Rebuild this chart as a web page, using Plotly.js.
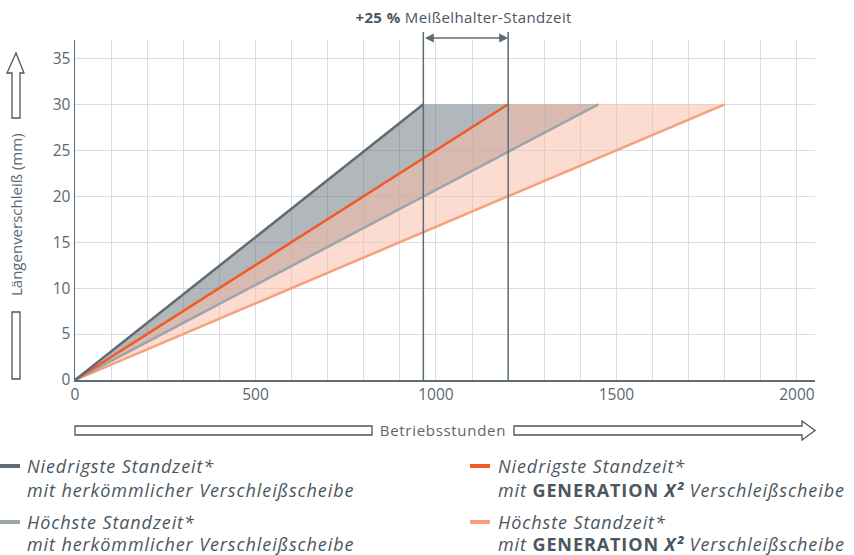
<!DOCTYPE html>
<html>
<head>
<meta charset="utf-8">
<script src="https://cdn.plot.ly/plotly-3.0.1.min.js"></script>
<style>
html,body{margin:0;padding:0;background:#fff;}#chart{width:854px;height:555px;}
g.annotation[data-index="0"] text, g.annotation[data-index="1"] text,
g.annotation[data-index="2"] text, g.annotation[data-index="3"] text,
g.annotation[data-index="4"] text, g.annotation[data-index="5"] text,
g.annotation[data-index="6"] text, g.annotation[data-index="7"] text {letter-spacing:0.9px;}
g.annotation[data-index="9"] text {letter-spacing:0.4px;}
g.annotation[data-index="11"] text {letter-spacing:0.7px;}
</style>
</head>
<body>
<div id="chart"></div>
<script>
// ---- data ----
const wear = [0, 30];                 // Längenverschleiß (mm)
const hoursLowConv = [0, 965];        // Niedrigste Standzeit, herkömmlich
const hoursHighConv = [0, 1450];      // Höchste Standzeit, herkömmlich
const hoursLowGen = [0, 1200];        // Niedrigste Standzeit, GENERATION X²
const hoursHighGen = [0, 1800];       // Höchste Standzeit, GENERATION X²
const xTicks = [0, 500, 1000, 1500, 2000];
const yTicks = [0, 5, 10, 15, 20, 25, 30, 35];
const markerHours = [965, 1200];      // +25 % markers

// ---- styling ----
const C = {
  lowConv: '#5f6b73', highConv: '#9aa4ab', lowGen: '#f05a24', highGen: '#f7a07c',
  text: '#4a5660', tick: '#5a6670', grid: '#d7dde1'
};
const FONT = '"Open Sans", Lato, sans-serif';
const L = 75, R = 815, T = 40, B = 380;
const px = p => (p - L) / (R - L);
const py = p => (B - p) / (B - T);

const rev = a => a.slice().reverse();
const traces = [
  {x: hoursLowConv.concat(rev(hoursHighConv)), y: wear.concat(rev(wear)), fill: 'toself',
   fillcolor: 'rgba(100,112,120,0.5)', line: {width: 0}, mode: 'lines', hoverinfo: 'skip'},
  {x: hoursLowGen.concat(rev(hoursHighGen)), y: wear.concat(rev(wear)), fill: 'toself',
   fillcolor: 'rgba(250,190,170,0.55)', line: {width: 0}, mode: 'lines', hoverinfo: 'skip'},
  {x: hoursHighGen, y: wear, mode: 'lines', line: {color: C.highGen, width: 2.5}},
  {x: hoursHighConv, y: wear, mode: 'lines', line: {color: C.highConv, width: 2.5}},
  {x: hoursLowGen, y: wear, mode: 'lines', line: {color: C.lowGen, width: 2.5}},
  {x: hoursLowConv, y: wear, mode: 'lines', line: {color: C.lowConv, width: 2.5}}
];

const shapes = [];
markerHours.forEach(h => shapes.push({type: 'line', xref: 'x', yref: 'paper', x0: h, x1: h,
  y0: 0, y1: py(32), line: {color: C.lowConv, width: 1.5}}));

// hollow arrow, y axis
const ax0 = px(12), ax1 = px(20), ah0 = px(7), ah1 = px(24), atip = px(16);
shapes.push({type: 'path', xref: 'paper', yref: 'paper', line: {color: C.text, width: 1.3},
  path: `M${ax0},${py(379)} L${ax1},${py(379)} L${ax1},${py(312)} L${ax0},${py(312)} Z`});
shapes.push({type: 'path', xref: 'paper', yref: 'paper', line: {color: C.text, width: 1.3},
  path: `M${ax0},${py(118)} L${ax0},${py(73)} L${ah0},${py(73)} L${atip},${py(53)} L${ah1},${py(73)} L${ax1},${py(73)} L${ax1},${py(118)} Z`});
// hollow arrow, x axis
shapes.push({type: 'path', xref: 'paper', yref: 'paper', line: {color: C.text, width: 1.3},
  path: `M${px(75)},${py(426)} L${px(372)},${py(426)} L${px(372)},${py(435)} L${px(75)},${py(435)} Z`});
shapes.push({type: 'path', xref: 'paper', yref: 'paper', line: {color: C.text, width: 1.3},
  path: `M${px(514)},${py(426)} L${px(802)},${py(426)} L${px(802)},${py(421)} L${px(815)},${py(430.5)} L${px(802)},${py(440)} L${px(802)},${py(435)} L${px(514)},${py(435)} Z`});

// legend swatches
const legendItems = [
  {c: C.lowConv, x0: 0, x1: 20, y: 466},
  {c: C.highConv, x0: 0, x1: 20, y: 522},
  {c: C.lowGen, x0: 470, x1: 490, y: 466},
  {c: C.highGen, x0: 470, x1: 490, y: 522}
];
legendItems.forEach(it => shapes.push({type: 'line', xref: 'paper', yref: 'paper',
  x0: px(it.x0), x1: px(it.x1), y0: py(it.y), y1: py(it.y), line: {color: it.c, width: 4}}));

const gen = '<span style="font-style:normal"><b>GENERATION</b></span> <b>X²</b>';
const legendText = [
  {x: 26, y: 466, t: '<i>Niedrigste Standzeit*</i>'},
  {x: 26, y: 490, t: '<i>mit herkömmlicher Verschleißscheibe</i>'},
  {x: 26, y: 522, t: '<i>Höchste Standzeit*</i>'},
  {x: 26, y: 543.5, t: '<i>mit herkömmlicher Verschleißscheibe</i>'},
  {x: 497, y: 466, t: '<i>Niedrigste Standzeit*</i>'},
  {x: 497, y: 490, t: '<i>mit ' + gen + ' Verschleißscheibe</i>'},
  {x: 497, y: 522, t: '<i>Höchste Standzeit*</i>'},
  {x: 497, y: 543.5, t: '<i>mit ' + gen + ' Verschleißscheibe</i>'}
];

const annotations = legendText.map(a => ({xref: 'paper', yref: 'paper', x: px(a.x), y: py(a.y),
  xanchor: 'left', yanchor: 'middle', align: 'left', showarrow: false, text: a.t, borderpad: 0,
  font: {family: FONT, size: 18, color: C.text}}));

annotations.push({xref: 'x', yref: 'paper', x: markerHours[1], y: py(38), ax: markerHours[0], ay: 0,
  axref: 'x', ayref: 'pixel', text: '', showarrow: true, arrowside: 'end+start', arrowhead: 2,
  arrowsize: 1.2, arrowwidth: 1.5, arrowcolor: C.lowConv, standoff: 0, startstandoff: 0});
annotations.push({xref: 'paper', yref: 'paper', x: px(463), y: py(17), xanchor: 'center', yanchor: 'middle',
  showarrow: false, text: '<b>+25 %</b> Meißelhalter-Standzeit', font: {family: FONT, size: 15, color: C.text}});
annotations.push({xref: 'paper', yref: 'paper', x: px(16), y: py(215), xanchor: 'center', yanchor: 'middle',
  showarrow: false, textangle: -90, text: 'Längenverschleiß (mm)', font: {family: FONT, size: 15, color: C.tick}});
annotations.push({xref: 'paper', yref: 'paper', x: px(443), y: py(430), xanchor: 'center', yanchor: 'middle',
  showarrow: false, text: 'Betriebsstunden', font: {family: FONT, size: 15, color: C.tick}});

const layout = {
  width: 854, height: 555,
  margin: {l: L, r: 854 - R, t: T, b: 555 - B},
  paper_bgcolor: '#fff', plot_bgcolor: '#fff',
  showlegend: false,
  font: {family: FONT, color: C.tick, size: 15},
  xaxis: {range: [0, 2050], tickvals: xTicks, showgrid: true, gridcolor: C.grid, gridwidth: 1,
    minor: {dtick: 100, showgrid: true, gridcolor: C.grid, gridwidth: 1},
    showline: true, linecolor: C.lowConv, linewidth: 1.5, zeroline: false, ticks: '',
    tickfont: {family: FONT, size: 15.5, color: C.tick}, fixedrange: true},
  yaxis: {range: [0, 37], tickvals: yTicks, showgrid: true, gridcolor: C.grid, gridwidth: 1,
    showline: true, linecolor: C.lowConv, linewidth: 1.5, zeroline: false, ticks: '',
    tickfont: {family: FONT, size: 15.5, color: C.tick}, fixedrange: true},
  shapes: shapes,
  annotations: annotations
};

Plotly.newPlot('chart', traces, layout, {displayModeBar: false, staticPlot: true});
</script>
</body>
</html>
